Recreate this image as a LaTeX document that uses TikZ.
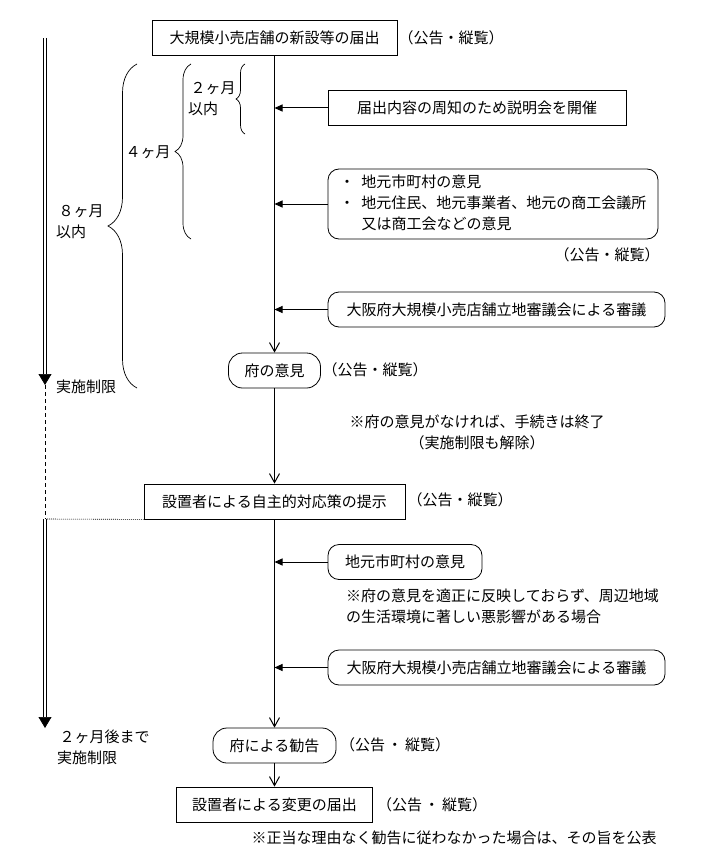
\documentclass[tikz,border=0pt]{standalone}
\usepackage{fontspec}
\setmainfont{Noto Sans CJK JP}
\usetikzlibrary{arrows.meta,decorations.pathreplacing}

\begin{document}
\begin{tikzpicture}[x=1pt,y=-1pt]
\tikzstyle{every node} = [font=\fontsize{15}{21}\selectfont, inner sep=2pt]
\tikzstyle{box} = [draw, line width=0.8pt, minimum height=35pt]
\tikzstyle{rbox} = [draw, line width=0.8pt, rounded corners=11pt, minimum height=35pt]
\tikzstyle{flow} = [line width=1pt, -{Straight Barb[length=9pt,width=10pt]}]
\tikzstyle{feed} = [line width=1pt, -{Triangle[length=8pt,width=7pt]}]
\tikzstyle{limit} = [double, double distance=2.2pt, line width=0.7pt, -{Triangle[length=11pt,width=13pt]}]
\tikzstyle{span} = [line width=0.7pt, decorate]

\useasboundingbox (0,0) rectangle (709,853);

% main flow
\node [box, minimum width=245pt] (todoke) at (274.5, 37.5) {大規模小売店舗の新設等の届出};
\node (k0) at (451, 38) {（公告・縦覧）};
\node [rbox, minimum width=92pt, rounded corners=14pt] (fu) at (274.5, 370.5) {府の意見};
\node (k1) at (375, 370) {（公告・縦覧）};
\node [align=center] (note1) at (477, 432) {※府の意見がなければ、手続きは終了\\（実施制限も解除）};
\node [box, minimum width=261pt] (jishu) at (274.5, 501.5) {設置者による自主的対応策の提示};
\node (k2) at (460, 500) {（公告・縦覧）};
\node [rbox, minimum width=123pt, rounded corners=14pt] (kankoku) at (274.5, 745.5) {府による勧告};
\node (k3) at (395, 745) {（公告\,・\,縦覧）};
\node [box, minimum width=196pt] (henko) at (274.5, 804.5) {設置者による変更の届出};
\node (k4) at (432, 805) {（公告\,・\,縦覧）};
\node (note3) at (454, 838) {※正当な理由なく勧告に従わなかった場合は、その旨を公表};

% side boxes
\node [box, minimum width=298pt] (setsumei) at (477, 108) {届出内容の周知のため説明会を開催};
\node [rbox, minimum width=330pt, minimum height=70pt] (iken) at (493, 204)
  {\begin{tabular}{@{}l@{\hspace{7pt}}l@{}}
   ・ & 地元市町村の意見\\
   ・ & 地元住民、地元事業者、地元の商工会議所\\
      & 又は商工会などの意見
   \end{tabular}};
\node (k5) at (607, 255) {（公告・縦覧）};
\node [rbox, minimum width=337pt] (shingi) at (496.5, 309.5) {大阪府大規模小売店舗立地審議会による審議};
\node [rbox, minimum width=154pt] (iken2) at (405, 562) {地元市町村の意見};
\node [anchor=west] (note2a) at (344, 596) {※府の意見を適正に反映しておらず、周辺地域};
\node [anchor=west] (note2b) at (344, 617) {の生活環境に著しい悪影響がある場合};
\node [rbox, minimum width=337pt] (shingi2) at (496.5, 667.5) {大阪府大規模小売店舗立地審議会による審議};

\draw [flow] (todoke) -- (fu);
\draw [flow] (fu) -- (jishu);
\draw [flow] (jishu) -- (kankoku);
\draw [flow] (kankoku) -- (henko);

\draw [feed] (setsumei.west) -- (setsumei.west -| todoke.south);
\draw [feed] (iken.west) -- (iken.west -| todoke.south);
\draw [feed] (shingi.west) -- (shingi.west -| todoke.south);
\draw [feed] (iken2.west) -- (iken2.west -| jishu.south);
\draw [feed] (shingi2.west) -- (shingi2.west -| jishu.south);

% periods
\coordinate (s1) at (45, 38);
\coordinate (e1) at (45, 385);
\coordinate (s2) at (45, 519);
\coordinate (e2) at (45, 728);
\draw [limit] (s1) -- (e1);
\draw [line width=0.7pt, dash pattern=on 4pt off 3pt] (e1) -- (s2);
\draw [line width=0.6pt, dash pattern=on 1pt off 1pt] (s2) -- (jishu.south west);
\draw [limit] (s2) -- (e2);
\node [anchor=west] (lim1) at (54, 387) {実施制限};
\node [anchor=west, align=left] (lim2) at (55, 747) {\,２ヶ月後まで\\実施制限};

\draw [span, decoration={brace, amplitude=29pt}] (137, 388) -- (137, 64);
\draw [span, decoration={brace, amplitude=16pt}] (191, 239) -- (191, 64);
\draw [span, decoration={brace, amplitude=9pt}] (245, 134) -- (245, 64);
\node [anchor=west, align=left] (m8) at (54, 222) {\,８ヶ月\\以内};
\node (m4) at (148, 152) {４ヶ月};
\node [anchor=west, align=left] (m2) at (186, 99) {\,２ヶ月\\以内};
\end{tikzpicture}
\end{document}
